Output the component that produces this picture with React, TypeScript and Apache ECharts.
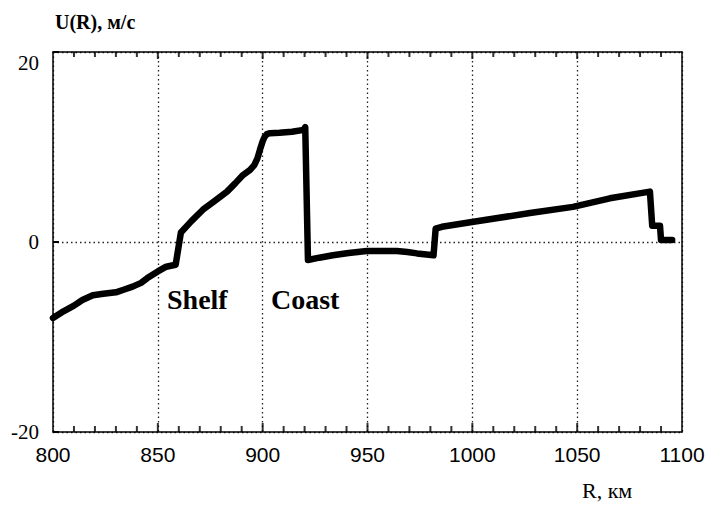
import React, { useEffect, useRef } from "react";
import * as echarts from "echarts";

// Range R, km
const R_KM = [
  800, 805, 810, 814, 819, 824, 830, 834, 838, 842, 845, 850, 854, 858.5, 861,
  866, 871.5, 877, 883, 887, 890.6, 894, 896, 897.5, 898.7, 900, 901, 902,
  903.5, 908, 914, 919.5, 920.3, 921.6, 927, 933.5, 941, 949.7, 964, 969, 973.6,
  981.5, 982.5, 985.5, 999.8, 1027.5, 1048, 1065.6, 1084.7, 1085.8, 1089.5,
  1090, 1095.3,
];
// Velocity U(R), m/s
const U_MS = [
  -8.0, -7.3, -6.7, -6.1, -5.6, -5.45, -5.3, -5.0, -4.7, -4.3, -3.8, -3.1, -2.6,
  -2.4, 1.0, 2.2, 3.4, 4.3, 5.3, 6.2, 7.05, 7.6, 8.1, 8.8, 9.7, 10.6, 11.1, 11.35,
  11.45, 11.5, 11.6, 11.8, 12.1, -1.9, -1.65, -1.4, -1.15, -0.95, -0.95, -1.05,
  -1.2, -1.4, 1.4, 1.6, 2.1, 3.05, 3.7, 4.6, 5.3, 1.7, 1.7, 0.2, 0.2,
];

// Tick marks along the R axis (top and bottom frame edges), km
const R_TICKS = [
  810, 820, 830, 840, 850, 860, 870, 880, 890, 900, 910, 920, 930, 940, 950,
  960, 970, 980, 990, 1000, 1010, 1020, 1030, 1040, 1050, 1060, 1070, 1080,
  1090,
];

const X_MIN = 800;
const X_MAX = 1100;
const X_STEP = 50;
const Y_MIN = -20;
const Y_MAX = 20;
const Y_STEP = 20;

const Y_TITLE = "U(R), м/с";
const X_TITLE = "R, км";
const ZONE_LABELS = ["Shelf", "Coast"];

export default function App() {
  const ref = useRef<HTMLDivElement>(null);

  useEffect(() => {
    if (!ref.current) return;
    const chart = echarts.init(ref.current, null, { renderer: "svg" });
    const dotted = { type: [1.5, 3] as number[], color: "#222", width: 1.3 };
    const axisLine = { show: true, onZero: false, lineStyle: { color: "#000", width: 1.5 } };
    const isMajor = (r: number) => r % X_STEP === 0;

    chart.setOption({
      animation: false,
      backgroundColor: "#fff",
      grid: { left: 53, top: 52, right: 27, bottom: 73, containLabel: false },
      xAxis: [
        {
          type: "value",
          min: X_MIN,
          max: X_MAX,
          interval: X_STEP,
          position: "bottom",
          axisLine,
          axisTick: { show: false },
          axisLabel: {
            fontFamily: "Liberation Sans",
            fontSize: 21,
            color: "#000",
            margin: 12,
            formatter: (v: number) => String(v),
          },
          splitLine: { show: true, lineStyle: dotted },
        },
        {
          type: "value",
          min: X_MIN,
          max: X_MAX,
          interval: X_STEP,
          position: "top",
          axisLine,
          axisTick: { show: false },
          axisLabel: { show: false },
          splitLine: { show: false },
        },
      ],
      yAxis: [
        {
          type: "value",
          min: Y_MIN,
          max: Y_MAX,
          interval: Y_STEP,
          position: "left",
          axisLine,
          axisTick: { show: true, inside: true, length: 6, lineStyle: { color: "#000", width: 2 } },
          axisLabel: {
            fontFamily: "Liberation Serif",
            fontSize: 21,
            color: "#000",
            margin: 14,
            verticalAlignMaxLabel: "top",
          },
          splitLine: { show: true, lineStyle: dotted },
        },
        {
          type: "value",
          min: Y_MIN,
          max: Y_MAX,
          interval: Y_STEP,
          position: "right",
          axisLine,
          axisTick: { show: false },
          axisLabel: { show: false },
          splitLine: { show: false },
        },
      ],
      series: [
        {
          // inward ticks on the bottom frame edge
          type: "scatter",
          xAxisIndex: 0,
          yAxisIndex: 0,
          silent: true,
          clip: false,
          data: R_TICKS.map((r) => [r, Y_MIN]),
          symbol: "rect",
          symbolSize: (v: number[]) => [2, isMajor(v[0]) ? 9 : 6],
          symbolOffset: (v: number[]) => [0, isMajor(v[0]) ? -4.5 : -3],
          itemStyle: { color: "#000" },
          z: 10,
        },
        {
          // inward ticks on the top frame edge
          type: "scatter",
          xAxisIndex: 0,
          yAxisIndex: 0,
          silent: true,
          clip: false,
          data: R_TICKS.map((r) => [r, Y_MAX]),
          symbol: "rect",
          symbolSize: (v: number[]) => [2, isMajor(v[0]) ? 7 : 5],
          symbolOffset: (v: number[]) => [0, isMajor(v[0]) ? 3.5 : 2.5],
          itemStyle: { color: "#000" },
          z: 10,
        },
        {
          type: "line",
          xAxisIndex: 0,
          yAxisIndex: 0,
          data: R_KM.map((r, i) => [r, U_MS[i]]),
          showSymbol: false,
          symbol: "none",
          lineStyle: { color: "#000", width: 6.5, join: "round", cap: "round" },
          z: 5,
        },
      ],
      graphic: [
        {
          type: "text",
          left: 55,
          top: 12,
          style: {
            text: Y_TITLE,
            font: "bold 20px 'Liberation Serif'",
            fill: "#000",
          },
        },
        {
          type: "text",
          left: 582,
          top: 479,
          style: {
            text: X_TITLE,
            font: "22px 'Liberation Serif'",
            fill: "#000",
          },
        },
        {
          type: "text",
          left: 167,
          top: 285,
          style: {
            text: ZONE_LABELS[0],
            font: "bold 28px 'Liberation Serif'",
            fill: "#000",
          },
        },
        {
          type: "text",
          left: 271,
          top: 285,
          style: {
            text: ZONE_LABELS[1],
            font: "bold 28px 'Liberation Serif'",
            fill: "#000",
          },
        },
      ],
    });

    return () => chart.dispose();
  }, []);

  return (
    <div
      ref={ref}
      style={{ position: "fixed", left: 0, top: 0, width: 709, height: 505, background: "#fff" }}
    />
  );
}
